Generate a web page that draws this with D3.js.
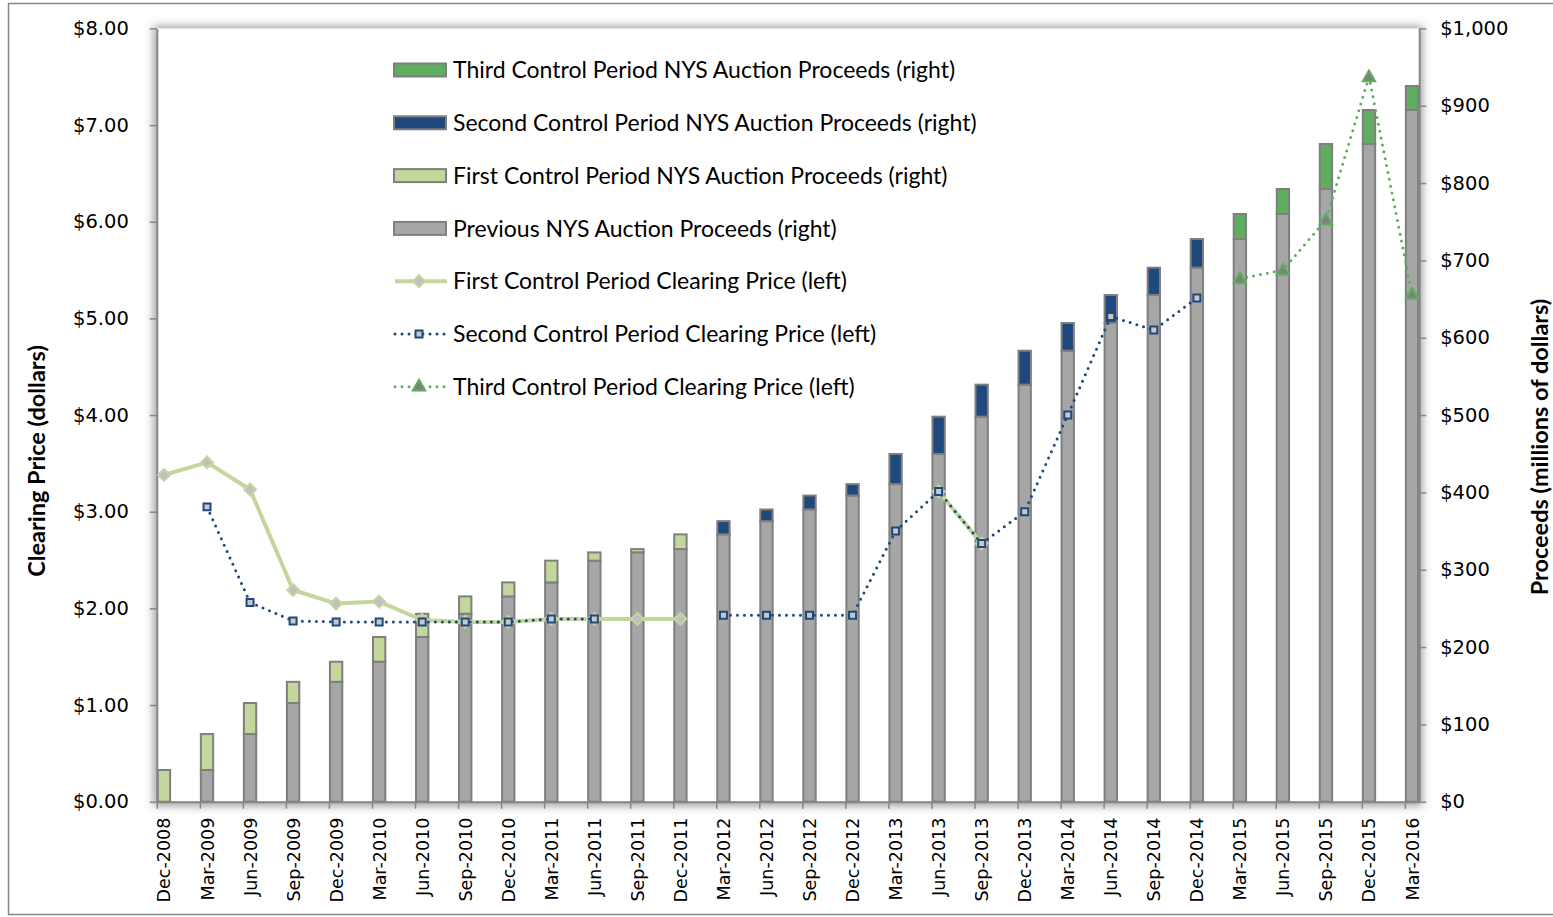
<!DOCTYPE html>
<html>
<head>
<meta charset="utf-8">
<script src="https://cdn.jsdelivr.net/npm/d3@7"></script>
<style>
  html, body { margin: 0; padding: 0; background: #fff; }
  svg { display: block; }
</style>
</head>
<body>
<svg id="chart" width="1553" height="917"></svg>
<script>
// ---------- DATA ----------
const categories = ["Dec-2008","Mar-2009","Jun-2009","Sep-2009","Dec-2009","Mar-2010","Jun-2010","Sep-2010","Dec-2010",
  "Mar-2011","Jun-2011","Sep-2011","Dec-2011","Mar-2012","Jun-2012","Sep-2012","Dec-2012","Mar-2013","Jun-2013",
  "Sep-2013","Dec-2013","Mar-2014","Jun-2014","Sep-2014","Dec-2014","Mar-2015","Jun-2015","Sep-2015","Dec-2015","Mar-2016"];

// Proceeds, millions of dollars (right axis)
const previousProceeds = [0,41,87.5,127.6,155,181,213,243,265.5,283.6,311.7,322.4,326.7,345.7,362.8,377.9,395.9,410.7,
  449.6,497.9,539.3,583.2,619,655.2,690.6,727.6,760,792.3,850.5,894.5];
const firstProceeds  = [41,46.5,40.1,27.4,26,32,30,22.5,18.1,28.1,10.7,4.3,19,0,0,0,0,0,0,0,0,0,0,0,0,0,0,0,0,0];
const secondProceeds = [0,0,0,0,0,0,0,0,0,0,0,0,0,17.1,15.1,18,14.8,38.9,48.3,41.4,43.9,35.8,36.2,35.4,37,0,0,0,0,0];
const thirdProceeds  = [0,0,0,0,0,0,0,0,0,0,0,0,0,0,0,0,0,0,0,0,0,0,0,0,0,32.4,32.3,58.2,44,31];

// Clearing prices, dollars (left axis)
const firstPrice  = [3.38,3.51,3.23,2.19,2.05,2.07,1.88,1.86,1.86,1.89,1.89,1.89,1.89,null,null,null,null,null,3.21,2.67,
  null,null,null,null,null,null,null,null,null,null];
const secondPrice = [null,3.05,2.06,1.87,1.86,1.86,1.86,1.86,1.86,1.89,1.89,null,null,1.93,1.93,1.93,1.93,2.80,3.21,2.67,
  3.00,4.00,5.02,4.88,5.21,null,null,null,null,null];
const thirdPrice  = [null,null,null,null,null,null,null,null,null,null,null,null,null,null,null,null,null,null,null,null,
  null,null,null,null,null,5.41,5.50,6.02,7.50,5.25];

const leftTicks  = [0,1,2,3,4,5,6,7,8];
const rightTicks = [0,100,200,300,400,500,600,700,800,900,1000];

const legendLabels = [
  "Third Control Period NYS Auction Proceeds (right)",
  "Second Control Period NYS Auction Proceeds (right)",
  "First Control Period NYS Auction Proceeds (right)",
  "Previous NYS Auction Proceeds (right)",
  "First Control Period Clearing Price (left)",
  "Second Control Period Clearing Price (left)",
  "Third Control Period Clearing Price (left)"
];

// ---------- STYLE ----------
const C = {
  grey: "#a6a6a6", greyStroke: "#7f7f7f",
  light: "#c3d69b", navy: "#1f497d", green: "#5fae5f",
  axis: "#868686"
};
const tickFont = "'DejaVu Sans', Verdana, sans-serif";
const textFont = "Lato, 'Open Sans', sans-serif";

// ---------- LAYOUT ----------
const svg = d3.select("#chart");
const plot = { left: 156.8, right: 1419.2, top: 28.4, bottom: 801.7 };
const monthsPerStep = 3;
const nSlots = (categories.length - 1) * monthsPerStep + 1; // monthly date axis

const x = d3.scaleLinear().domain([0, nSlots]).range([plot.left, plot.right]);
const slotOf = i => i * monthsPerStep;
const cx = i => x(slotOf(i) + 0.5);
const yL = d3.scaleLinear().domain([0, 8]).range([plot.bottom, plot.top]);
const yR = d3.scaleLinear().domain([0, 1000]).range([plot.bottom, plot.top]);

// outer chart border
svg.append("rect").attr("x", 8.5).attr("y", 3.5).attr("width", 1580).attr("height", 911)
  .attr("fill", "#fff").attr("stroke", C.axis).attr("stroke-width", 1.5);

// plot-area glow
const defs = svg.append("defs");
defs.append("filter").attr("id", "glow").attr("x", "-5%").attr("y", "-5%").attr("width", "110%").attr("height", "110%")
  .append("feGaussianBlur").attr("stdDeviation", 5);
svg.append("rect").attr("x", plot.left - 3).attr("y", plot.top - 2).attr("width", plot.right - plot.left + 6)
  .attr("height", plot.bottom - plot.top + 6).attr("fill", "#9a9a9a").attr("filter", "url(#glow)");
svg.append("rect").attr("x", plot.left).attr("y", plot.top).attr("width", plot.right - plot.left)
  .attr("height", plot.bottom - plot.top).attr("fill", "#fff");

// ---------- BARS ----------
const table = categories.map((c, i) => ({
  cat: c, i,
  previous: previousProceeds[i], first: firstProceeds[i], second: secondProceeds[i], third: thirdProceeds[i]
}));
const keys = ["previous", "first", "second", "third"];
const fills = { previous: C.grey, first: C.light, second: C.navy, third: C.green };
const stacked = d3.stack().keys(keys)(table);

const barG = svg.append("g");
stacked.forEach(layer => {
  barG.append("g").selectAll("rect")
    .data(layer.filter(d => d[1] - d[0] > 0))
    .join("rect")
    .attr("x", d => x(slotOf(d.data.i)) + 1)
    .attr("width", d => x(slotOf(d.data.i) + 1) - x(slotOf(d.data.i)) - 2)
    .attr("y", d => yR(d[1]))
    .attr("height", d => yR(d[0]) - yR(d[1]))
    .attr("fill", fills[layer.key])
    .attr("stroke", C.greyStroke)
    .attr("stroke-width", 2);
});

// ---------- AXES ----------
const axisStyle = g => {
  g.select(".domain").attr("stroke", C.axis).attr("stroke-width", 2);
  g.selectAll(".tick line").attr("stroke", C.axis).attr("stroke-width", 1.5);
};

// x axis (tick marks at quarter boundaries of the monthly date axis)
const xTickVals = d3.range(categories.length).map(slotOf);
svg.append("g").attr("transform", `translate(0,${plot.bottom})`)
  .call(d3.axisBottom(x).tickValues(xTickVals).tickFormat("").tickSize(7).tickSizeOuter(0))
  .call(axisStyle);

svg.append("g").selectAll("text").data(categories).join("text")
  .attr("transform", (d, i) => `translate(${cx(i) + 6.5},${plot.bottom + 16}) rotate(-90)`)
  .attr("text-anchor", "end")
  .attr("font-family", tickFont).attr("font-size", 17.5).attr("fill", "#000")
  .text(d => d);

// left axis
const gl = svg.append("g").attr("transform", `translate(${plot.left},0)`)
  .call(d3.axisLeft(yL).tickValues(leftTicks).tickFormat(d3.format("$.2f")).tickSize(7).tickSizeOuter(0).tickPadding(21))
  .call(axisStyle);
gl.selectAll("text").attr("font-family", tickFont).attr("font-size", 19.5).attr("fill", "#000");

// right axis
const gr = svg.append("g").attr("transform", `translate(${plot.right},0)`)
  .call(d3.axisRight(yR).tickValues(rightTicks).tickFormat(d3.format("$,.0f")).tickSize(7).tickSizeOuter(0).tickPadding(14))
  .call(axisStyle);
gr.selectAll("text").attr("font-family", tickFont).attr("font-size", 19.5).attr("fill", "#000");

// axis titles
svg.append("text").attr("transform", "translate(45,461) rotate(-90)").attr("text-anchor", "middle")
  .attr("font-family", textFont).attr("font-weight", "bold").attr("font-size", 23.5).text("Clearing Price (dollars)");
svg.append("text").attr("transform", "translate(1548,447) rotate(-90)").attr("text-anchor", "middle")
  .attr("font-family", textFont).attr("font-weight", "bold").attr("font-size", 23.5).text("Proceeds (millions of dollars)");

// ---------- LINES ----------
const mkLine = arr => d3.line().defined((d, i) => arr[i] != null).x((d, i) => cx(i)).y((d, i) => yL(arr[i] ?? 0));

const diamond = d3.symbol().type(d3.symbolDiamond2).size(90);
const square  = d3.symbol().type(d3.symbolSquare2).size(62);
const triangle = d3.symbol().type(d3.symbolTriangle2).size(110);

function drawSeries(arr, lineAttrs, markerPath, markerAttrs) {
  const g = svg.append("g");
  g.append("path").datum(arr).attr("d", mkLine(arr)).attr("fill", "none").call(s => {
    Object.entries(lineAttrs).forEach(([k, v]) => s.attr(k, v));
  });
  g.selectAll("path.m").data(arr.map((v, i) => ({ v, i })).filter(d => d.v != null)).join("path")
    .attr("class", "m")
    .attr("d", markerPath)
    .attr("transform", d => `translate(${cx(d.i)},${yL(d.v) + (markerAttrs.dy || 0)})`)
    .attr("fill", markerAttrs.fill).attr("stroke", markerAttrs.stroke).attr("stroke-width", markerAttrs.sw);
}

drawSeries(firstPrice, { stroke: C.light, "stroke-width": 4, "stroke-linejoin": "round" },
  diamond, { fill: "#bfbfbf", stroke: C.light, sw: 2 });
drawSeries(secondPrice, { stroke: C.navy, "stroke-width": 3, "stroke-dasharray": "0 7", "stroke-linecap": "round" },
  square, { fill: "#c8c8c8", stroke: C.navy, sw: 2 });
drawSeries(thirdPrice, { stroke: C.green, "stroke-width": 3, "stroke-dasharray": "0 7", "stroke-linecap": "round" },
  triangle, { fill: "#7f7f7f", stroke: C.green, sw: 2, dy: 1 });

// ---------- LEGEND ----------
const lg = svg.append("g");
const legX = 393, legY0 = 70, legStep = 52.8;
const swatchKinds = [
  { type: "bar", fill: C.green }, { type: "bar", fill: C.navy }, { type: "bar", fill: C.light }, { type: "bar", fill: C.grey },
  { type: "line", stroke: C.light, dash: null, w: 4, marker: diamond, mfill: "#bfbfbf", mstroke: C.light },
  { type: "line", stroke: C.navy, dash: "0 7", w: 3, marker: square, mfill: "#c8c8c8", mstroke: C.navy },
  { type: "line", stroke: C.green, dash: "0 7", w: 3, marker: triangle, mfill: "#7f7f7f", mstroke: C.green }
];
legendLabels.forEach((lab, k) => {
  const yc = legY0 + k * legStep;
  const s = swatchKinds[k];
  if (s.type === "bar") {
    lg.append("rect").attr("x", legX + 1).attr("y", yc - 6.5).attr("width", 52).attr("height", 13)
      .attr("fill", s.fill).attr("stroke", C.greyStroke).attr("stroke-width", 2);
  } else {
    const ln = lg.append("line").attr("x1", legX + 2).attr("x2", legX + 54).attr("y1", yc).attr("y2", yc)
      .attr("stroke", s.stroke).attr("stroke-width", s.w);
    if (s.dash) ln.attr("stroke-dasharray", s.dash).attr("stroke-linecap", "round");
    lg.append("path").attr("d", s.marker).attr("transform", `translate(${legX + 26},${yc})`)
      .attr("fill", s.mfill).attr("stroke", s.mstroke).attr("stroke-width", 2);
  }
  lg.append("text").attr("x", 453).attr("y", yc).attr("dy", "0.36em")
    .attr("font-family", textFont).attr("font-size", 23).attr("fill", "#000").text(lab);
});
</script>
</body>
</html>
